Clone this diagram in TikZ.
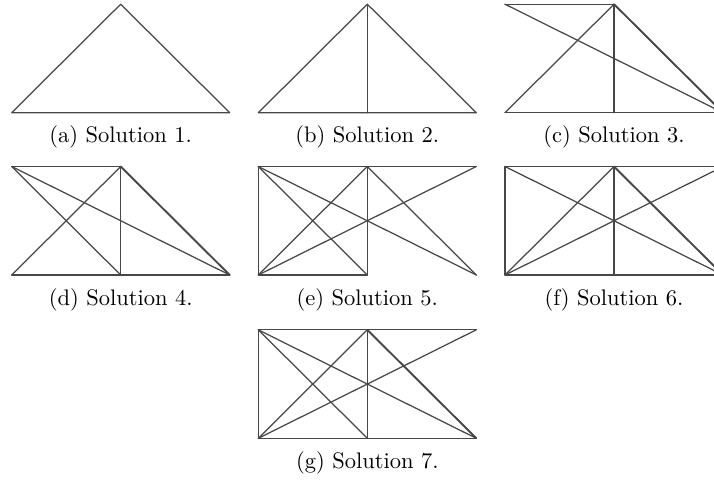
\documentclass[tikz,border=0pt]{standalone}
\begin{document}
\begin{tikzpicture}[x=0.4444pt,y=-0.4444pt,
  seg/.style={draw=black!72,line width=0.55pt,line cap=round,line join=round},
  segthick/.style={draw=black!72,line width=0.85pt,line cap=round},
  captext/.style={anchor=base,inner sep=0pt,font=\normalsize}]
\useasboundingbox (0,0) rectangle (714,482);
\clip (0,0) rectangle (714,482);
\foreach \n/\x/\y in {a/11.7/112.7, b/258.3/112.7, c/505/112.7,
                      d/11.7/275, e/258.3/275, f/505/275, g/258.3/438.3}{
  \coordinate (\n-BL) at (\x,\y);
  \coordinate (\n-BM) at (\x+109,\y);
  \coordinate (\n-BR) at (\x+218,\y);
  \coordinate (\n-TL) at (\x,\y-108.5);
  \coordinate (\n-TM) at (\x+109,\y-108.5);
  \coordinate (\n-TR) at (\x+218,\y-108.5);
  \coordinate (\n-C) at (\x+109,\y+30);
}
% (a)
\draw[seg] (a-BL) -- (a-TM) -- (a-BR) -- (a-BL);
% (b)
\draw[seg] (b-BL) -- (b-TM) -- (b-BR) -- (b-BL);
\draw[seg] (b-TM) -- (b-BM);
% (c)
\draw[seg] (c-TL) -- (c-TM);
\draw[seg] (c-TM) -- (c-BL);
\draw[seg] (c-TM) -- (c-BM);
\draw[seg] (c-TL) -- (c-BR);
\draw[seg] (c-BL) -- (c-BR);
\draw[segthick] (c-TM) -- (c-BR);
% (d)
\draw[seg] (d-TL) -- (d-TM);
\draw[seg] (d-TL) -- (d-BM);
\draw[seg] (d-TL) -- (d-BR);
\draw[seg] (d-BL) -- (d-TM);
\draw[seg] (d-TM) -- (d-BM);
\draw[seg] (d-BL) -- (d-BR);
\draw[segthick] (d-TM) -- (d-BR);
% (e)
\draw[seg] (e-BL) -- (e-TL);
\draw[seg] (e-TL) -- (e-TR);
\draw[seg] (e-TL) -- (e-BM);
\draw[seg] (e-TL) -- (e-BR);
\draw[seg] (e-BL) -- (e-TM);
\draw[seg] (e-BL) -- (e-TR);
\draw[seg] (e-TM) -- (e-BM);
\draw[seg] (e-TM) -- (e-BR);
\draw[seg] (e-BL) -- (e-BM);
% (f)
\draw[seg] (f-BL) -- (f-TL);
\draw[seg] (f-TL) -- (f-TR);
\draw[seg] (f-BL) -- (f-BR);
\draw[seg] (f-TL) -- (f-BR);
\draw[seg] (f-BL) -- (f-TM);
\draw[seg] (f-BL) -- (f-TR);
\draw[seg] (f-TM) -- (f-BM);
\draw[segthick] (f-TM) -- (f-BR);
% (g)
\draw[seg] (g-BL) -- (g-TL);
\draw[seg] (g-TL) -- (g-TR);
\draw[seg] (g-BL) -- (g-BR);
\draw[seg] (g-TL) -- (g-BM);
\draw[seg] (g-TL) -- (g-BR);
\draw[seg] (g-BL) -- (g-TM);
\draw[seg] (g-BL) -- (g-TR);
\draw[seg] (g-TM) -- (g-BM);
\draw[segthick] (g-TM) -- (g-BR);
% captions
\node[captext] (capa) at (a-C) {(a) Solution 1.};
\node[captext] (capb) at (b-C) {(b) Solution 2.};
\node[captext] (capc) at (c-C) {(c) Solution 3.};
\node[captext] (capd) at (d-C) {(d) Solution 4.};
\node[captext] (cape) at (e-C) {(e) Solution 5.};
\node[captext] (capf) at (f-C) {(f) Solution 6.};
\node[captext] (capg) at (g-C) {(g) Solution 7.};
\end{tikzpicture}
\end{document}
